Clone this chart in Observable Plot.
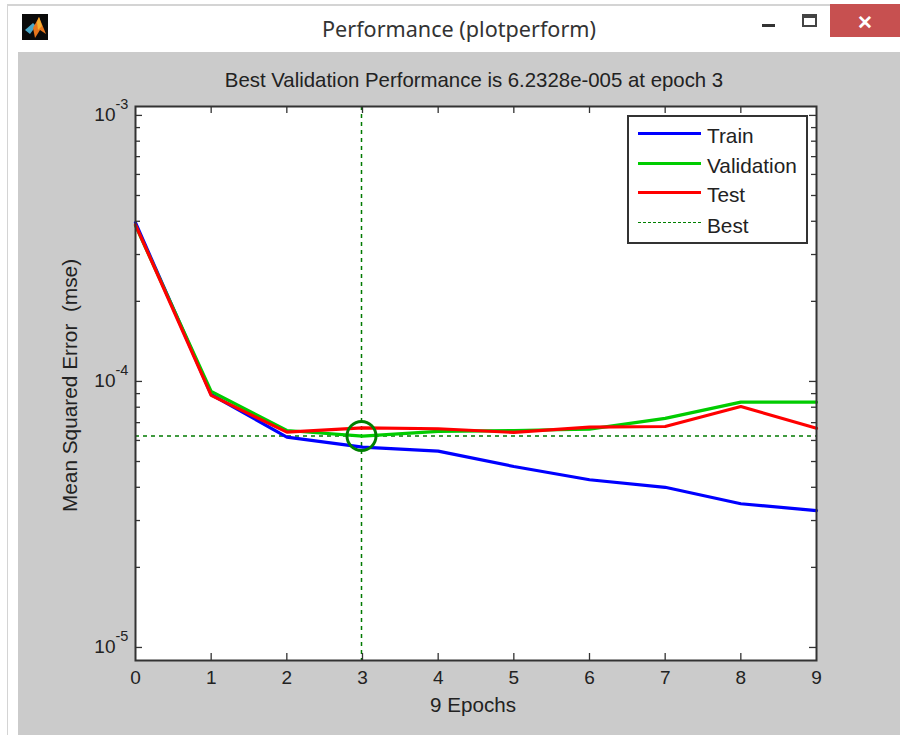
<!DOCTYPE html>
<html>
<head>
<meta charset="utf-8">
<script src="https://cdn.jsdelivr.net/npm/d3@7"></script>
<script src="https://cdn.jsdelivr.net/npm/@observablehq/plot@0.6"></script>
<style>
html,body{margin:0;padding:0;background:#fff;width:902px;height:742px;overflow:hidden}
#win{position:absolute;left:7px;top:4px;width:893px;height:731px;border-left:1px solid #d4d4d4;border-top:2px solid #d4d4d4;box-sizing:border-box}
#panel{position:absolute;left:18px;top:52px;width:882px;height:683px;background:#cbcbcb}
#wt{position:absolute;left:0;width:918px;top:14px;text-align:center;font:21.6px "Noto Sans",sans-serif;color:#333}
#close{position:absolute;left:830px;top:4px;width:70px;height:33px;background:#c75050;color:#fff;text-align:center;font:bold 19px/38px "Liberation Sans",sans-serif}
#max{position:absolute;left:802px;top:14px;width:15px;height:13px;border:2px solid #444;border-top-width:4px;box-sizing:border-box;background:#fff}
#min{position:absolute;left:762px;top:24px;width:13px;height:3px;background:#333}
#icon{position:absolute;left:22px;top:14px}
#chart{position:absolute;left:0;top:0}
#chart svg{background:transparent;display:block}
#legend{position:absolute;left:627px;top:115px;width:181px;height:129px;box-sizing:border-box;border:2px solid #333;background:#fff;font:20.8px "Liberation Sans",sans-serif;color:#222}
.r{position:absolute;left:78px;line-height:24px;white-space:nowrap}
.s{position:absolute;left:9px;width:63px;height:3px}
</style>
</head>
<body>
<div id="win"></div>
<div id="panel"></div>
<svg id="icon" width="26" height="26" viewBox="0 0 26 26"><rect width="26" height="26" fill="#0a0a0a"/><polygon points="3,16 11,9 14,12 8,20" fill="#4aa8c8"/><polygon points="11,14 17,3 24,20 18,16 13,24" fill="#e8761c"/><polygon points="15,8 17,3 20,12 16,16" fill="#f4b030"/></svg>
<div id="wt">Performance (plotperform)</div>
<div id="min"></div><div id="max"></div><div id="close">✕</div>
<div id="chart"></div>
<div id="legend"></div>
<script>
const epochs = [0,1,2,3,4,5,6,7,8,9];
const train = [3.95e-4,8.93e-5,6.18e-5,5.66e-5,5.47e-5,4.79e-5,4.27e-5,4.00e-5,3.47e-5,3.27e-5];
const validation = [3.85e-4,9.17e-5,6.54e-5,6.2328e-5,6.49e-5,6.54e-5,6.62e-5,7.26e-5,8.36e-5,8.36e-5];
const test = [3.88e-4,8.86e-5,6.45e-5,6.69e-5,6.64e-5,6.43e-5,6.73e-5,6.77e-5,8.05e-5,6.67e-5];
const bestEpoch = 3;
const bestValue = 6.2328e-5;
const majorTicks = [1e-5,1e-4,1e-3];
const exponents = ["-5","-4","-3"];
const minorTicks = [2e-5,3e-5,4e-5,5e-5,6e-5,7e-5,8e-5,9e-5,2e-4,3e-4,4e-4,5e-4,6e-4,7e-4,8e-4,9e-4];
const seriesNames = ["Train","Validation","Test","Best"];
const seriesColors = ["#0000ff","#00cc00","#ff0000","#008000"];

const W = 902, H = 742, mL = 135, mR = 86, mT = 106, mB = 82;
const innerW = W-mL-mR, innerH = H-mT-mB;
const font = "Liberation Sans";
const ink = "#222", axis = "#333";

const line = (ys,c)=>Plot.line(epochs,{x:d=>d,y:(d,i)=>ys[i],stroke:c,strokeWidth:3.2,strokeLinejoin:"miter",curve:"linear"});

const plot = Plot.plot({
  width:W,height:H,marginLeft:mL,marginRight:mR,marginTop:mT,marginBottom:mB,
  style:{background:"transparent",fontFamily:font},
  x:{domain:[0,9],axis:null},
  y:{type:"log",domain:[Math.pow(10,-5.049),Math.pow(10,-2.9665)],axis:null},
  marks:[
    Plot.frame({fill:"white",stroke:"none"}),
    Plot.ruleX([bestEpoch],{stroke:"#007a00",strokeWidth:1.5,strokeDasharray:"4 4",dx:-1}),
    Plot.ruleY([bestValue],{stroke:"#007a00",strokeWidth:1.5,strokeDasharray:"4 4"}),
    line(train,seriesColors[0]),
    line(validation,seriesColors[1]),
    line(test,seriesColors[2]),
    Plot.dot([bestEpoch],{x:d=>d,y:()=>bestValue,r:14.5,stroke:"#008000",strokeWidth:3,fill:"none",dx:-1}),
    // x ticks, bottom and top
    Plot.ruleX(epochs.slice(1,-1),{stroke:axis,strokeWidth:1.3,insetTop:innerH-7}),
    Plot.ruleX(epochs.slice(1,-1),{stroke:axis,strokeWidth:1.3,insetBottom:innerH-7}),
    // y ticks, left and right
    Plot.ruleY(majorTicks,{stroke:axis,strokeWidth:1.3,insetRight:innerW-7}),
    Plot.ruleY(majorTicks,{stroke:axis,strokeWidth:1.3,insetLeft:innerW-7}),
    Plot.ruleY(minorTicks,{stroke:axis,strokeWidth:1.3,insetRight:innerW-5}),
    Plot.ruleY(minorTicks,{stroke:axis,strokeWidth:1.3,insetLeft:innerW-5}),
    Plot.frame({stroke:axis,strokeWidth:2}),
    // tick labels
    Plot.text(epochs,{x:d=>d,frameAnchor:"bottom",lineAnchor:"top",dy:10,text:d=>String(d),fontSize:19,fill:ink}),
    Plot.text(majorTicks,{y:d=>d,frameAnchor:"left",textAnchor:"end",dx:-20,dy:-1,text:()=>"10",fontSize:19,fill:ink}),
    Plot.text(majorTicks,{y:d=>d,frameAnchor:"left",textAnchor:"start",dx:-20,dy:-11,text:(d,i)=>exponents[i],fontSize:14.5,fill:ink}),
    // titles
    Plot.text(["Best Validation Performance is 6.2328e-005 at epoch 3"],{frameAnchor:"top",lineAnchor:"bottom",dy:-20,dx:-2,text:d=>d,fontSize:20.4,fill:ink}),
    Plot.text(["9 Epochs"],{frameAnchor:"bottom",lineAnchor:"top",dy:37,dx:-3,text:d=>d,fontSize:20.6,fill:ink}),
    Plot.text(["Mean Squared Error  (mse)"],{frameAnchor:"left",textAnchor:"middle",rotate:-90,dx:-65,dy:2,text:d=>d,fontSize:20.8,fill:ink})
  ]
});
document.getElementById("chart").appendChild(plot);

const lg = document.getElementById("legend");
const rowY = [18,48,77,108];
seriesNames.forEach((n,i)=>{
  const s = document.createElement("div");
  s.className="s"; s.style.top=(rowY[i]-3)+"px";
  if(n==="Best"){ s.style.height="0"; s.style.borderTop="1.5px dashed "+seriesColors[i]; s.style.top=rowY[i]-3+"px"; }
  else s.style.background=seriesColors[i];
  lg.appendChild(s);
  const t = document.createElement("div");
  t.className="r"; t.textContent=n; t.style.top=(rowY[i]-11)+"px";
  lg.appendChild(t);
});
</script>
</body>
</html>
